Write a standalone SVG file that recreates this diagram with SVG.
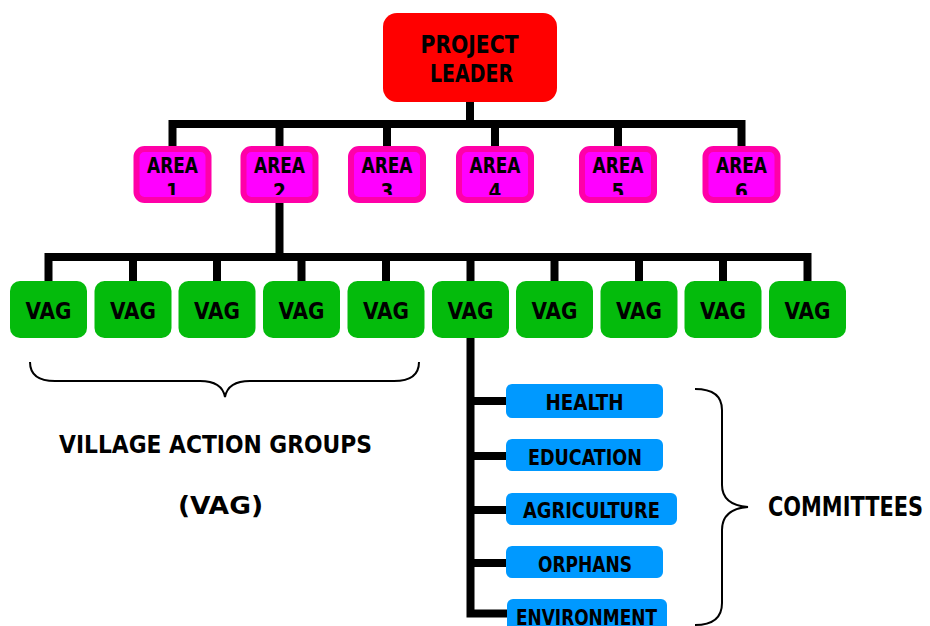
<svg xmlns="http://www.w3.org/2000/svg" width="930" height="626" viewBox="0 0 930 626">
<style>
text{font-family:'DejaVu Sans Condensed','DejaVu Sans',sans-serif;font-weight:bold;font-stretch:condensed;fill:#000;text-anchor:middle}
.leader{fill:#ff0000}
.area{fill:#ff00ff;stroke:#ff00a8;stroke-width:6}
.vag{fill:#04bb0c}
.com{fill:#0099ff}
.conn{fill:none;stroke:#000;stroke-width:8;stroke-linejoin:miter}
.brace{fill:none;stroke:#000;stroke-width:2}
.t25{font-size:24.7px}
.t20{font-size:20.5px}
.t23{font-size:22.6px}
</style>
<defs>
<clipPath id="areaClip"><rect x="0" y="140" width="930" height="55"/></clipPath>
</defs>
<g id="connectors">
<path class="conn" d="M470,102 V124"/>
<path class="conn" d="M172.5,146 V124 H741.5 V146"/>
<path class="conn" d="M279.5,124 V146 M387,124 V146 M495,124 V146 M618,124 V146"/>
<path class="conn" d="M279.5,203 V257"/>
<path class="conn" d="M48.5,281 V257 H807.5 V281"/>
<path class="conn" d="M133,257 V281 M217,257 V281 M301.5,257 V281 M386,257 V281 M470.5,257 V281 M554.5,257 V281 M639,257 V281 M723,257 V281"/>
<path class="conn" d="M470.5,338 V613.5 H507"/>
<path class="conn" d="M470.5,401 H507 M470.5,456 H507 M470.5,510 H507 M470.5,563 H507"/>
</g>
<g id="leader">
<rect class="leader" x="383" y="13" width="174" height="89" rx="14"/>
<text class="t25" x="469.5" y="53" textLength="98" lengthAdjust="spacingAndGlyphs">PROJECT</text>
<text class="t25" x="471.5" y="82" textLength="83" lengthAdjust="spacingAndGlyphs">LEADER</text>
</g>
<g id="area1">
<rect class="area" x="136.5" y="149" width="72" height="51" rx="8"/>
<g clip-path="url(#areaClip)"><text class="t20" x="172.5" y="173" textLength="51" lengthAdjust="spacingAndGlyphs">AREA</text><text class="t20" x="172.5" y="199">1</text></g>
</g>
<g id="area2">
<rect class="area" x="243.5" y="149" width="72" height="51" rx="8"/>
<g clip-path="url(#areaClip)"><text class="t20" x="279.5" y="173" textLength="51" lengthAdjust="spacingAndGlyphs">AREA</text><text class="t20" x="279.5" y="199">2</text></g>
</g>
<g id="area3">
<rect class="area" x="351" y="149" width="72" height="51" rx="8"/>
<g clip-path="url(#areaClip)"><text class="t20" x="387" y="173" textLength="51" lengthAdjust="spacingAndGlyphs">AREA</text><text class="t20" x="387" y="199">3</text></g>
</g>
<g id="area4">
<rect class="area" x="459" y="149" width="72" height="51" rx="8"/>
<g clip-path="url(#areaClip)"><text class="t20" x="495" y="173" textLength="51" lengthAdjust="spacingAndGlyphs">AREA</text><text class="t20" x="495" y="199">4</text></g>
</g>
<g id="area5">
<rect class="area" x="582" y="149" width="72" height="51" rx="8"/>
<g clip-path="url(#areaClip)"><text class="t20" x="618" y="173" textLength="51" lengthAdjust="spacingAndGlyphs">AREA</text><text class="t20" x="618" y="199">5</text></g>
</g>
<g id="area6">
<rect class="area" x="705.5" y="149" width="72" height="51" rx="8"/>
<g clip-path="url(#areaClip)"><text class="t20" x="741.5" y="173" textLength="51" lengthAdjust="spacingAndGlyphs">AREA</text><text class="t20" x="741.5" y="199">6</text></g>
</g>
<g id="vag1"><rect class="vag" x="10" y="281" width="77" height="57" rx="10"/><text class="t23" x="48.5" y="319" textLength="46" lengthAdjust="spacingAndGlyphs">VAG</text></g>
<g id="vag2"><rect class="vag" x="94.5" y="281" width="77" height="57" rx="10"/><text class="t23" x="133" y="319" textLength="46" lengthAdjust="spacingAndGlyphs">VAG</text></g>
<g id="vag3"><rect class="vag" x="178.5" y="281" width="77" height="57" rx="10"/><text class="t23" x="217" y="319" textLength="46" lengthAdjust="spacingAndGlyphs">VAG</text></g>
<g id="vag4"><rect class="vag" x="263" y="281" width="77" height="57" rx="10"/><text class="t23" x="301.5" y="319" textLength="46" lengthAdjust="spacingAndGlyphs">VAG</text></g>
<g id="vag5"><rect class="vag" x="347.5" y="281" width="77" height="57" rx="10"/><text class="t23" x="386" y="319" textLength="46" lengthAdjust="spacingAndGlyphs">VAG</text></g>
<g id="vag6"><rect class="vag" x="432" y="281" width="77" height="57" rx="10"/><text class="t23" x="470.5" y="319" textLength="46" lengthAdjust="spacingAndGlyphs">VAG</text></g>
<g id="vag7"><rect class="vag" x="516" y="281" width="77" height="57" rx="10"/><text class="t23" x="554.5" y="319" textLength="46" lengthAdjust="spacingAndGlyphs">VAG</text></g>
<g id="vag8"><rect class="vag" x="600.5" y="281" width="77" height="57" rx="10"/><text class="t23" x="639" y="319" textLength="46" lengthAdjust="spacingAndGlyphs">VAG</text></g>
<g id="vag9"><rect class="vag" x="684.5" y="281" width="77" height="57" rx="10"/><text class="t23" x="723" y="319" textLength="46" lengthAdjust="spacingAndGlyphs">VAG</text></g>
<g id="vag10"><rect class="vag" x="769" y="281" width="77" height="57" rx="10"/><text class="t23" x="807.5" y="319" textLength="46" lengthAdjust="spacingAndGlyphs">VAG</text></g>
<g id="health"><rect class="com" x="506" y="384" width="157" height="34" rx="6"/><text class="t20" x="584.5" y="410" textLength="78" lengthAdjust="spacingAndGlyphs">HEALTH</text></g>
<g id="education"><rect class="com" x="506" y="439" width="157" height="32" rx="6"/><text class="t20" x="585" y="465" textLength="114" lengthAdjust="spacingAndGlyphs">EDUCATION</text></g>
<g id="agriculture"><rect class="com" x="506" y="493" width="171" height="32" rx="6"/><text class="t20" x="591.5" y="518" textLength="137" lengthAdjust="spacingAndGlyphs">AGRICULTURE</text></g>
<g id="orphans"><rect class="com" x="506" y="546" width="157" height="32" rx="6"/><text class="t20" x="585" y="572" textLength="94" lengthAdjust="spacingAndGlyphs">ORPHANS</text></g>
<g id="environment"><rect class="com" x="507" y="599" width="160" height="40" rx="6"/><text class="t20" x="586.5" y="625" textLength="141" lengthAdjust="spacingAndGlyphs">ENVIRONMENT</text></g>
<g id="vag-brace">
<path class="brace" d="M30,362 Q30,381 55,381 H200 Q222,381 225,397 Q228,381 250,381 H394 Q419,381 419,362"/>
<text class="t25" x="215.5" y="453" textLength="313" lengthAdjust="spacingAndGlyphs">VILLAGE ACTION GROUPS</text>
<text class="t25" x="220.5" y="514" textLength="85" lengthAdjust="spacingAndGlyphs">(VAG)</text>
</g>
<g id="committees-brace">
<path class="brace" d="M695,389 Q722,389 722,410 V485 Q722,505 748,507 Q722,509 722,530 V603 Q722,625 695,625"/>
<text style="font-size:26px" x="845.5" y="516" textLength="155" lengthAdjust="spacingAndGlyphs">COMMITTEES</text>
</g>
</svg>
